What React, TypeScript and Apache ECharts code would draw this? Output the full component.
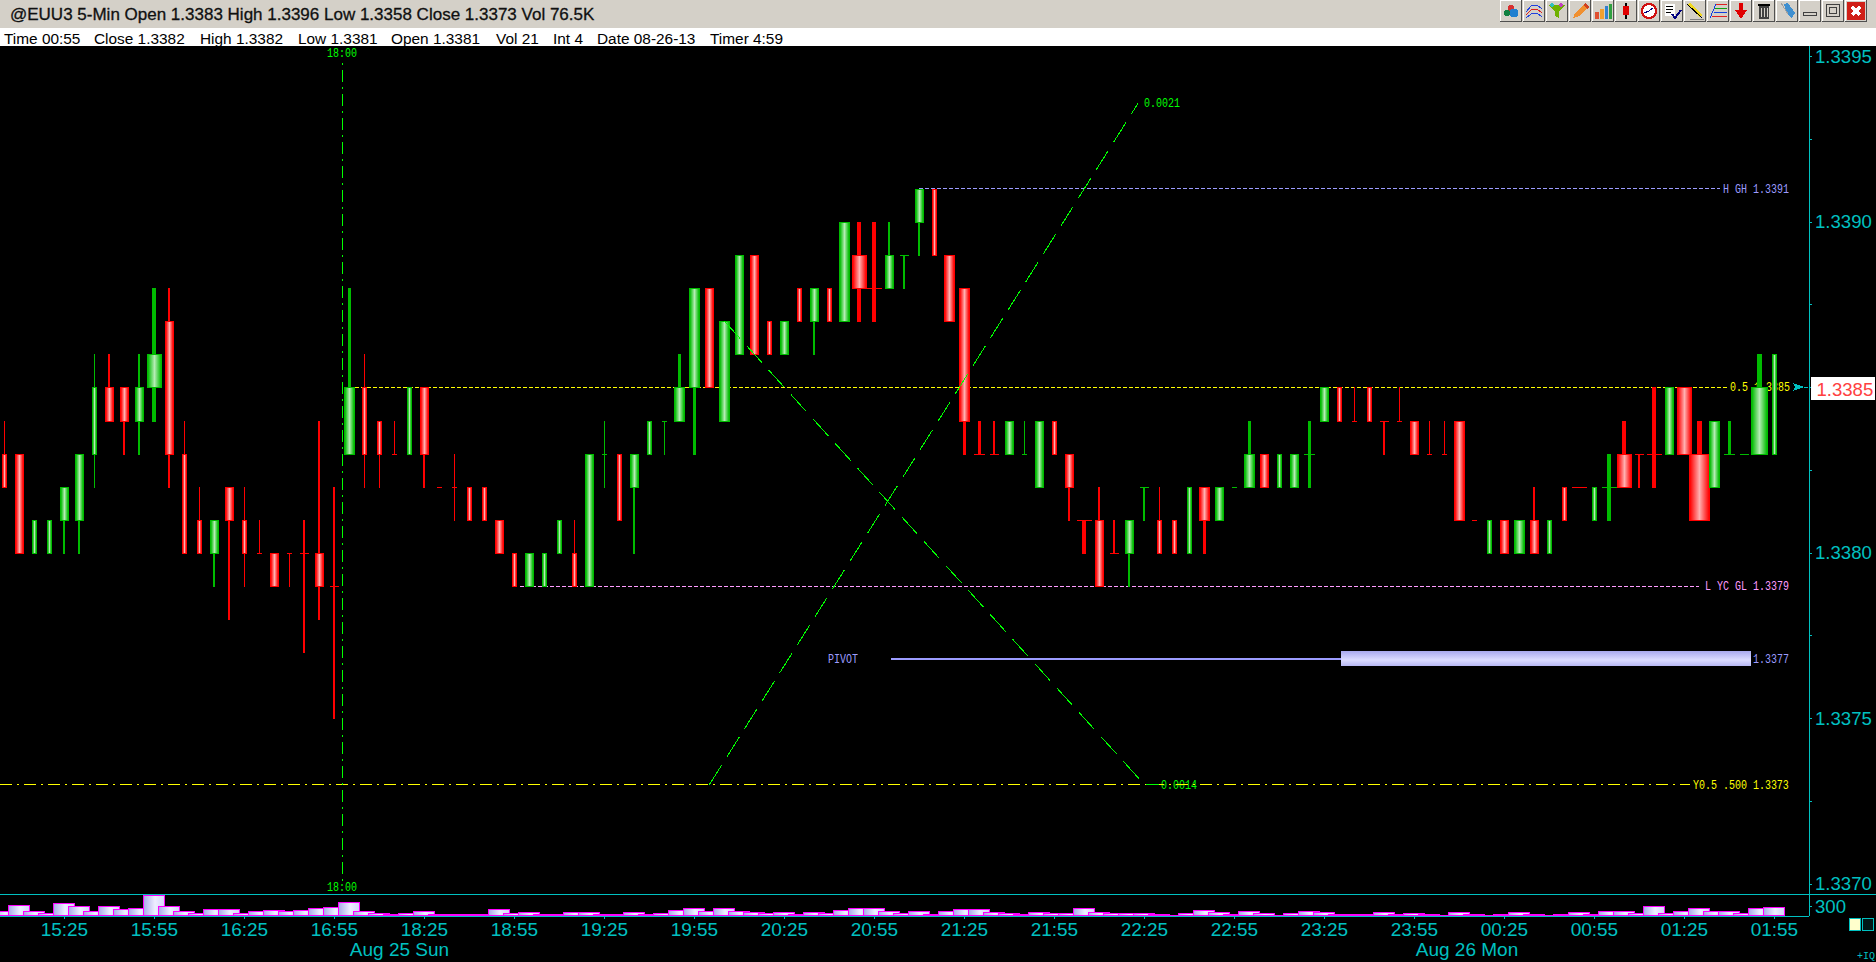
import React, { useEffect, useRef } from "react";
import * as echarts from "echarts";

const opens = [
  1.3383, 1.3383, 1.3380, 1.3380, 1.3381, 1.3381, 1.3383, 1.3385, 1.3385, 1.3384,
  1.3385, 1.3387, 1.3383, 1.3381, 1.3380, 1.3382, 1.3381, 1.3380, 1.3380, 1.3380,
  1.3380, 1.3380, 1.3379, 1.3383, 1.3385, 1.3384, 1.3383, 1.3383, 1.3385, 1.3382,
  1.3382, 1.3382, 1.3382, 1.3381, 1.3380, 1.3379, 1.3379, 1.3380, 1.3380, 1.3379,
  1.3383, 1.3383, 1.3382, 1.3383, 1.3384, 1.3384, 1.3385, 1.3388, 1.3384, 1.3386,
  1.3389, 1.3387, 1.3386, 1.3388, 1.3387, 1.3388, 1.3387, 1.3389, 1.3388, 1.3388,
  1.3389, 1.3390, 1.3391, 1.3389, 1.3388, 1.3383, 1.3383, 1.3383, 1.3383, 1.3382,
  1.3384, 1.3383, 1.3381, 1.3381, 1.3380, 1.3380, 1.3382, 1.3381, 1.3381, 1.3380,
  1.3382, 1.3381, 1.3382, 1.3382, 1.3383, 1.3382, 1.3382, 1.3383, 1.3384, 1.3385,
  1.3384, 1.3385, 1.3384, 1.3384, 1.3384, 1.3383, 1.3383, 1.3384, 1.3381, 1.3380,
  1.3381, 1.3380, 1.3381, 1.3380, 1.3382, 1.3382, 1.3381, 1.3382, 1.3383, 1.3383,
  1.3383, 1.3383, 1.3385, 1.3383, 1.3382, 1.3383, 1.3383, 1.3383, 1.3383,
];
const closes = [
  1.3382, 1.3380, 1.3381, 1.3381, 1.3382, 1.3383, 1.3385, 1.3384, 1.3384, 1.3385,
  1.3386, 1.3383, 1.3380, 1.3380, 1.3381, 1.3381, 1.3380, 1.3380, 1.3379, 1.3380,
  1.3380, 1.3379, 1.3379, 1.3385, 1.3383, 1.3383, 1.3383, 1.3385, 1.3383, 1.3382,
  1.3382, 1.3381, 1.3381, 1.3380, 1.3379, 1.3380, 1.3380, 1.3381, 1.3379, 1.3383,
  1.3383, 1.3381, 1.3383, 1.3384, 1.3384, 1.3385, 1.3388, 1.3385, 1.3387, 1.3389,
  1.3386, 1.3386, 1.3387, 1.3387, 1.3388, 1.3387, 1.3390, 1.3388, 1.3388, 1.3389,
  1.3389, 1.3391, 1.3389, 1.3387, 1.3384, 1.3383, 1.3383, 1.3384, 1.3383, 1.3384,
  1.3383, 1.3382, 1.3381, 1.3379, 1.3380, 1.3381, 1.3382, 1.3380, 1.3380, 1.3382,
  1.3381, 1.3382, 1.3382, 1.3383, 1.3382, 1.3383, 1.3383, 1.3383, 1.3385, 1.3384,
  1.3384, 1.3384, 1.3384, 1.3384, 1.3383, 1.3383, 1.3383, 1.3381, 1.3381, 1.3381,
  1.3380, 1.3381, 1.3380, 1.3381, 1.3381, 1.3382, 1.3382, 1.3382, 1.3382, 1.3383,
  1.3383, 1.3385, 1.3383, 1.3381, 1.3384, 1.3383, 1.3383, 1.3385, 1.3386,
];
const highs = [
  1.3384, 1.3383, 1.3381, 1.3381, 1.3382, 1.3383, 1.3386, 1.3386, 1.3385, 1.3386,
  1.3388, 1.3388, 1.3384, 1.3382, 1.3381, 1.3382, 1.3382, 1.3381, 1.3380, 1.3380,
  1.3381, 1.3384, 1.3382, 1.3388, 1.3386, 1.3384, 1.3384, 1.3385, 1.3385, 1.3382,
  1.3383, 1.3382, 1.3382, 1.3381, 1.3380, 1.3380, 1.3380, 1.3381, 1.3381, 1.3383,
  1.3384, 1.3383, 1.3383, 1.3384, 1.3384, 1.3386, 1.3388, 1.3388, 1.3387, 1.3389,
  1.3389, 1.3387, 1.3387, 1.3388, 1.3388, 1.3388, 1.3390, 1.3390, 1.3390, 1.3390,
  1.3389, 1.3391, 1.3391, 1.3389, 1.3388, 1.3384, 1.3384, 1.3384, 1.3384, 1.3384,
  1.3384, 1.3383, 1.3381, 1.3382, 1.3381, 1.3381, 1.3382, 1.3382, 1.3381, 1.3382,
  1.3382, 1.3382, 1.3382, 1.3384, 1.3383, 1.3383, 1.3383, 1.3384, 1.3385, 1.3385,
  1.3385, 1.3385, 1.3384, 1.3385, 1.3384, 1.3384, 1.3384, 1.3384, 1.3381, 1.3381,
  1.3381, 1.3381, 1.3382, 1.3381, 1.3382, 1.3382, 1.3382, 1.3383, 1.3384, 1.3383,
  1.3385, 1.3385, 1.3385, 1.3384, 1.3384, 1.3384, 1.3383, 1.3386, 1.3386,
];
const lows = [
  1.3382, 1.3380, 1.3380, 1.3380, 1.3380, 1.3380, 1.3382, 1.3384, 1.3383, 1.3383,
  1.3384, 1.3382, 1.3380, 1.3380, 1.3379, 1.3378, 1.3379, 1.3380, 1.3379, 1.3379,
  1.3377, 1.3378, 1.3375, 1.3383, 1.3382, 1.3382, 1.3383, 1.3383, 1.3382, 1.3382,
  1.3381, 1.3381, 1.3381, 1.3380, 1.3379, 1.3379, 1.3379, 1.3380, 1.3379, 1.3379,
  1.3382, 1.3381, 1.3380, 1.3383, 1.3383, 1.3384, 1.3383, 1.3385, 1.3384, 1.3386,
  1.3386, 1.3386, 1.3386, 1.3387, 1.3386, 1.3387, 1.3387, 1.3387, 1.3387, 1.3388,
  1.3388, 1.3389, 1.3389, 1.3387, 1.3383, 1.3383, 1.3383, 1.3383, 1.3383, 1.3382,
  1.3383, 1.3381, 1.3380, 1.3379, 1.3380, 1.3379, 1.3381, 1.3380, 1.3380, 1.3380,
  1.3380, 1.3381, 1.3382, 1.3382, 1.3382, 1.3382, 1.3382, 1.3382, 1.3384, 1.3384,
  1.3384, 1.3384, 1.3383, 1.3384, 1.3383, 1.3383, 1.3383, 1.3381, 1.3381, 1.3380,
  1.3380, 1.3380, 1.3380, 1.3380, 1.3381, 1.3382, 1.3381, 1.3381, 1.3382, 1.3382,
  1.3382, 1.3383, 1.3383, 1.3381, 1.3382, 1.3383, 1.3383, 1.3383, 1.3383,
];
// Equivolume-like breadth of each candle.
const breadths = [
  5, 9, 5, 5, 9, 9, 5, 9, 9, 9, 15, 9, 5, 5, 9, 9, 5, 5, 9, 5,
  9, 9, 9, 11, 5, 5, 5, 5, 9, 5, 5, 5, 5, 9, 5, 9, 5, 5, 5, 9,
  5, 5, 9, 5, 5, 11, 11, 9, 11, 9, 9, 5, 9, 5, 9, 5, 11, 15, 15, 9,
  9, 9, 5, 11, 11, 11, 9, 9, 5, 9, 5, 9, 15, 9, 9, 9, 9, 5, 5, 5,
  11, 9, 5, 11, 9, 5, 9, 11, 9, 5, 5, 5, 9, 5, 9, 5, 5, 11, 5, 5,
  9, 11, 9, 5, 5, 15, 5, 15, 15, 9, 15, 9, 15, 21, 11, 11, 9, 17, 5,
];
const greenDojis = [40, 44, 60, 68, 76, 82, 87, 107, 115, 116];
const volumes = [
  160, 320, 140, 100, 380, 290, 160, 290, 200, 230, 620, 290, 140, 100, 200, 200, 80, 140, 170, 140,
  170, 230, 260, 410, 140, 80, 60, 80, 140, 50, 50, 50, 50, 200, 100, 110, 50, 50, 110, 110,
  70, 70, 110, 50, 80, 170, 230, 140, 230, 140, 110, 80, 110, 50, 110, 80, 170, 230, 230, 140,
  80, 140, 50, 140, 200, 200, 110, 80, 50, 110, 80, 80, 230, 110, 80, 80, 80, 50, 30, 80,
  170, 110, 50, 140, 80, 30, 80, 140, 110, 50, 50, 50, 110, 60, 80, 50, 30, 110, 50, 30,
  50, 110, 50, 20, 50, 110, 50, 140, 140, 80, 290, 80, 140, 230, 140, 140, 80, 230, 260,
];

const timeTickBars = [4, 10, 16, 22, 28, 34, 40, 46, 52, 58, 64, 70, 76, 82, 88, 94, 100, 106, 112, 118];
const timeTickLabels = [
  "15:25", "15:55", "16:25", "16:55", "18:25", "18:55", "19:25", "19:55", "20:25", "20:55",
  "21:25", "21:55", "22:25", "22:55", "23:25", "23:55", "00:25", "00:55", "01:25", "01:55",
];
const priceTicks = [1.337, 1.33725, 1.3375, 1.33775, 1.338, 1.33825, 1.3385, 1.33875, 1.339, 1.33925, 1.3395];
const priceLabels = [1.337, 1.3375, 1.338, 1.339, 1.3395];
const volumeTicks = [300];
const lastPrice = 1.3385;

const sessionBreakBar = 22.53;
const sessionBreakSpan = [1.33948, 1.33701];
const fibUpBars = [47, 75.6];
const fibUpPrices = [1.3373, 1.33936];
const fibDownBars = [48, 76, 77];
const fibDownPrices = [1.3387, 1.3373, 1.3373];

const levelPrices = [1.3391, 1.3385, 1.3379, 1.3373, 1.33768];
const levelStartBars = [61, 23, 34.4, -0.3, 59.1];
const levelEndBars = [114.4, 114.85, 113, 112.4, 89.1];
const pivotBand = [[89.1, 1.33768], [116.4, 1.33768]];

const annotationTexts = ["18:00", "18:00", "0.0021", "0.0014", "H GH 1.3391", "0.5 1.3385", "L YC GL 1.3379", "PIVOT", "1.3377", "Y0.5 .500 1.3373"];
const annotationBars = [22.53, 22.53, 75.95, 77.1, 114.6, 115.04, 113.4, 54.9, 116.6, 112.6];
const annotationPrices = [1.33951, 1.33699, 1.33936, 1.3373, 1.3391, 1.3385, 1.3379, 1.33768, 1.33768, 1.3373];

const statusTexts = ["Time 00:55", "Close 1.3382", "High 1.3382", "Low 1.3381", "Open 1.3381", "Vol 21", "Int 4", "Date 08-26-13", "Timer 4:59"];
const titleText = "@EUU3 5-Min Open 1.3383 High 1.3396 Low 1.3358 Close 1.3373 Vol 76.5K";
const dateTexts = ["Aug 25 Sun", "Aug 26 Mon"];

const CYAN = "#00c0c0";
const GREEN = "#00bb00";
const RED = "#ff0000";
const LIME = "#00ff00";
const YELLOW = "#ffff00";
const PERI = "#9c9cff";
const PINK = "#ff9cff";
const levelColors = [PERI, YELLOW, PINK, YELLOW, PERI];
const levelDashes: any[] = [[4, 2], [4, 2], [4, 2], [12, 5, 2, 5], "solid"];
const levelWidths = [1, 1, 1, 1, 2];
const annotationColors = [LIME, LIME, LIME, LIME, PERI, YELLOW, PINK, PERI, PERI, YELLOW];

const bitmapFont = '10px "Liberation Mono"';
const wickFor = (b: number) => (b <= 5 ? 1 : b <= 9 ? 2 : b <= 11 ? 3 : b <= 15 ? 4 : 5);
const statusX = [4, 94, 200, 298, 391, 496, 553, 597, 710];

function candleItem(params: any, api: any) {
  const i = params.dataIndex;
  const x = api.value(0);
  const o = api.value(1);
  const c = api.value(2);
  const l = api.value(3);
  const h = api.value(4);
  const b = api.value(5);
  const green = c > o || (c === o && greenDojis.includes(i));
  const main = green ? GREEN : RED;
  const pale = green ? "#b4ecb4" : "#ffb0b0";
  const cx = api.coord([x, o])[0];
  const yO = Math.round(api.coord([x, o])[1]);
  const yC = Math.round(api.coord([x, c])[1]);
  const yH = Math.round(api.coord([x, h])[1]);
  const yL = Math.round(api.coord([x, l])[1]);
  const top = Math.min(yO, yC);
  const bot = Math.max(yO, yC);
  const wick = wickFor(b);
  const left = Math.round(cx - b / 2);
  const wickLeft = Math.round(cx - wick / 2);
  const children: any[] = [];
  if (yL > yH) {
    children.push({ type: "rect", shape: { x: wickLeft, y: yH, width: wick, height: yL - yH + 1 }, style: { fill: main } });
  }
  children.push({ type: "rect", shape: { x: left, y: top, width: b, height: bot - top + 1 }, style: { fill: main } });
  if (bot > top + 2 && b > 2) {
    children.push({
      type: "rect",
      shape: { x: left + 1, y: top + 1, width: b - 2, height: bot - top - 1 },
      style: {
        fill: new echarts.graphic.LinearGradient(0, 0, 1, 0, [
          { offset: 0, color: main },
          { offset: 0.5, color: pale },
          { offset: 1, color: main },
        ]),
      },
    });
  }
  return { type: "group", children };
}

function volumeItem(_params: any, api: any) {
  const p = api.coord([api.value(0), api.value(1)]);
  const base = api.coord([api.value(0), 0]);
  const w = 22;
  const left = Math.round(p[0] - w / 2);
  const top = Math.round(p[1]);
  const bottom = Math.round(base[1]);
  return {
    type: "group",
    children: [
      { type: "rect", shape: { x: left, y: top, width: w, height: bottom - top }, style: { fill: "#ff00ff" } },
      {
        type: "rect",
        shape: { x: left + 1, y: top + 1, width: w - 2, height: Math.max(0, bottom - top - 2) },
        style: {
          fill: new echarts.graphic.LinearGradient(0, 0, 1, 0, [
            { offset: 0, color: "#acacea" },
            { offset: 0.55, color: "#eeeeff" },
            { offset: 1, color: "#d6d6fb" },
          ]),
        },
      },
    ],
  };
}

function annotationItem(params: any, api: any) {
  const i = params.dataIndex;
  const p = api.coord([api.value(0), api.value(1)]);
  const centred = annotationTexts[i] === "18:00";
  return {
    type: "text",
    x: Math.round(p[0]),
    y: Math.round(p[1]) + 1,
    scaleY: 1.35,
    style: {
      text: annotationTexts[i],
      fill: annotationColors[i],
      font: bitmapFont,
      align: centred ? "center" : "left",
      verticalAlign: "middle",
    },
  };
}

function pivotItem(_params: any, api: any) {
  const a = api.coord([pivotBand[0][0], pivotBand[0][1]]);
  const b = api.coord([pivotBand[1][0], pivotBand[1][1]]);
  return {
    type: "rect",
    shape: { x: Math.round(a[0]), y: Math.round(a[1]) - 8, width: Math.round(b[0] - a[0]), height: 15 },
    style: {
      fill: new echarts.graphic.LinearGradient(0, 0, 0, 1, [
        { offset: 0, color: "#a8a8ee" },
        { offset: 0.6, color: "#dcdcff" },
        { offset: 1, color: "#b8b8f4" },
      ]),
    },
  };
}

function lastPriceItem(_params: any, api: any) {
  const p = api.coord([api.value(0), api.value(1)]);
  const x = p[0];
  const y = Math.round(p[1]);
  return {
    type: "group",
    children: [
      { type: "polygon", shape: { points: [[x, y - 4], [x + 12, y], [x, y + 4], [x + 3, y]] }, style: { fill: CYAN } },
      { type: "rect", shape: { x: x + 12, y, width: 4, height: 1 }, style: { fill: CYAN } },
      { type: "rect", shape: { x: x + 19, y: y - 10, width: 64, height: 23 }, style: { fill: "#ffffff" } },
      {
        type: "text",
        x: x + 24,
        y: y + 2,
        style: { text: api.value(1).toFixed(4), fill: "#ff4040", font: '18.6px "Liberation Sans"', align: "left", verticalAlign: "middle" },
      },
    ],
  };
}

function buttonIcons(k: number): any[] {
  const x0 = 1500 + 23 * k;
  const r = (x: number, y: number, w: number, h: number, fill: string) => ({ type: "rect", shape: { x: x0 + x, y, width: w, height: h }, style: { fill } });
  const c = (x: number, y: number, rad: number, fill: string) => ({ type: "circle", shape: { cx: x0 + x, cy: y, r: rad }, style: { fill } });
  const poly = (pts: number[][], fill: string) => ({ type: "polygon", shape: { points: pts.map((p) => [x0 + p[0], p[1]]) }, style: { fill } });
  const pl = (pts: number[][], stroke: string, w = 1) => ({ type: "polyline", shape: { points: pts.map((p) => [x0 + p[0], p[1]]) }, style: { stroke, lineWidth: w, fill: "none" } });
  switch (k) {
    case 0:
      return [c(7, 13, 3, "#108040"), c(11, 8, 3.5, "#d83030"), c(14, 13, 4.5, "#2080d0")];
    case 1:
      return [pl([[3, 12], [8, 6], [14, 5], [19, 9]], "#2040e0"), pl([[3, 15], [8, 10], [14, 9], [19, 13]], "#e02020"), pl([[3, 18], [8, 14], [14, 13], [19, 17]], "#2040e0")];
    case 2:
      return [poly([[3, 5], [19, 5], [13, 12], [13, 18], [9, 16], [9, 12]], "#70b000"), c(6, 5, 2, "#30c0c0"), c(15, 5, 2, "#c040c0")];
    case 3:
      return [poly([[4, 18], [6, 13], [16, 3], [20, 7], [10, 16]], "#f09030"), poly([[16, 3], [20, 7], [18, 9], [14, 5]], "#d04020")];
    case 4:
      return [r(3, 12, 4, 7, "#e05030"), r(8, 9, 4, 10, "#f0a030"), r(13, 6, 3, 13, "#3080d0"), r(17, 4, 3, 15, "#30a040")];
    case 5:
      return [r(10, 3, 2, 16, "#000000"), r(8, 6, 6, 9, "#e00000")];
    case 6:
      return [
        { type: "circle", shape: { cx: x0 + 11, cy: 11, r: 7 }, style: { fill: "#ffffff", stroke: "#d01010", lineWidth: 2 } },
        pl([[6, 13], [11, 11], [15, 8]], "#000080"),
      ];
    case 7:
      return [r(4, 4, 10, 12, "#ffffff"), pl([[5, 6], [12, 6]], "#000000"), pl([[5, 9], [12, 9]], "#000000"), pl([[5, 12], [10, 12]], "#000000"), pl([[11, 14], [14, 18], [20, 10]], "#000080", 2)];
    case 8:
      return [poly([[3, 4], [6, 3], [18, 15], [16, 18]], "#f0d820"), pl([[3, 4], [18, 18]], "#000000"), pl([[6, 19], [20, 19]], "#808080")];
    case 9:
      return [pl([[3, 18], [9, 4]], "#1040e0"), pl([[9, 4], [20, 4]], "#e02020"), pl([[8, 8], [20, 8]], "#10a010"), pl([[7, 12], [20, 12]], "#1040e0"), pl([[5, 16], [20, 16]], "#e02020")];
    case 10:
      return [r(9, 3, 4, 8, "#e00000"), poly([[5, 10], [17, 10], [11, 19]], "#e00000")];
    case 11:
      return [r(6, 6, 10, 13, "#404040"), r(5, 4, 12, 2, "#000000"), r(8, 8, 1, 9, "#d4d0c8"), r(11, 8, 1, 9, "#d4d0c8"), r(14, 8, 1, 9, "#d4d0c8")];
    case 12:
      return [poly([[8, 4], [12, 3], [19, 13], [16, 18], [11, 14]], "#4090d0"), pl([[5, 3], [12, 14]], "#a0a0a0")];
    case 13:
      return [{ type: "rect", shape: { x: x0 + 4.5, y: 12.5, width: 13, height: 3 }, style: { fill: "none", stroke: "#404040", lineWidth: 1 } }];
    case 14:
      return [
        { type: "rect", shape: { x: x0 + 4.5, y: 4.5, width: 13, height: 12 }, style: { fill: "none", stroke: "#404040", lineWidth: 1 } },
        { type: "rect", shape: { x: x0 + 7.5, y: 7.5, width: 7, height: 6 }, style: { fill: "none", stroke: "#404040", lineWidth: 1 } },
      ];
    default:
      return [r(2, 2, 18, 18, "#d02018"), pl([[7, 7], [15, 15]], "#ffffff", 3), pl([[15, 7], [7, 15]], "#ffffff", 3)];
  }
}

function chromeGraphics(): any[] {
  const out: any[] = [
    { type: "rect", shape: { x: 0, y: 0, width: 1876, height: 28 }, style: { fill: "#d4d0c8" } },
    { type: "rect", shape: { x: 0, y: 28, width: 1876, height: 18 }, style: { fill: "#ffffff" } },
    { type: "text", x: 10, y: 14, style: { text: titleText, fill: "#101010", font: '17px "Liberation Sans"', verticalAlign: "middle", stroke: "#101010", lineWidth: 0.3 } },
    { type: "rect", shape: { x: 0, y: 894, width: 1876, height: 1 }, style: { fill: CYAN } },
    { type: "rect", shape: { x: 1849, y: 918, width: 11, height: 12 }, style: { fill: "#ffffcc", stroke: CYAN, lineWidth: 1 } },
    { type: "rect", shape: { x: 1862, y: 918, width: 11, height: 12 }, style: { fill: "#001818", stroke: CYAN, lineWidth: 1 } },
    { type: "text", x: 1857, y: 956, style: { text: "+IQ", fill: CYAN, font: bitmapFont, verticalAlign: "middle" } },
  ];
  statusTexts.forEach((t, i) => {
    out.push({ type: "text", x: statusX[i], y: 38, style: { text: t, fill: "#000000", font: '15.4px "Liberation Sans"', verticalAlign: "middle" } });
  });
  const dateCentres = [399.5, 1467];
  dateTexts.forEach((t, i) => {
    out.push({ type: "text", x: dateCentres[i], y: 949, style: { text: t, fill: CYAN, font: '19px "Liberation Sans"', align: "center", verticalAlign: "middle" } });
  });
  for (let k = 0; k < 16; k++) {
    const x0 = 1500 + 23 * k;
    out.push({ type: "rect", shape: { x: x0, y: 0, width: 22, height: 22 }, style: { fill: "#d4d0c8" } });
    out.push({ type: "polyline", shape: { points: [[x0 + 0.5, 22], [x0 + 0.5, 0.5], [x0 + 22, 0.5]] }, style: { stroke: "#ffffff", lineWidth: 1, fill: "none" } });
    out.push({ type: "polyline", shape: { points: [[x0, 21.5], [x0 + 21.5, 21.5], [x0 + 21.5, 0]] }, style: { stroke: "#505050", lineWidth: 1, fill: "none" } });
    buttonIcons(k).forEach((g) => out.push(g));
  }
  return out;
}

function buildOption(): any {
  const xMin = -0.2933;
  const xMax = xMin + 1809 / 15;
  const lineBase = { type: "line", xAxisIndex: 0, yAxisIndex: 0, showSymbol: false, symbol: "none", silent: true, animation: false };
  const levelSeries = levelPrices.map((p, i) => ({
    ...lineBase,
    name: "level" + i,
    z: 1,
    data: [[levelStartBars[i], p], [levelEndBars[i], p]],
    lineStyle: { color: levelColors[i], width: levelWidths[i], type: levelDashes[i] },
  }));
  return {
    animation: false,
    backgroundColor: "#000000",
    grid: [
      { left: 0, top: 46, width: 1809, height: 848 },
      { left: 0, top: 894, width: 1809, height: 22 },
    ],
    xAxis: [
      { type: "value", gridIndex: 0, min: xMin, max: xMax, show: false, splitLine: { show: false } },
      {
        type: "value",
        gridIndex: 1,
        min: xMin,
        max: xMax,
        z: 10,
        splitLine: { show: false },
        axisLine: { show: true, lineStyle: { color: CYAN, width: 1 } },
        axisTick: { show: true, length: 3, customValues: timeTickBars, lineStyle: { color: CYAN } },
        axisLabel: {
          customValues: timeTickBars,
          color: CYAN,
          fontFamily: "Liberation Sans",
          fontSize: 19,
          margin: 4,
          formatter: (v: number) => timeTickLabels[timeTickBars.indexOf(v)] ?? "",
        },
      },
    ],
    yAxis: [
      {
        type: "value",
        gridIndex: 0,
        position: "right",
        min: 1.3385 - (894 - 387.4) / 33.1 / 10000,
        max: 1.3385 + (387.4 - 46) / 33.1 / 10000,
        splitLine: { show: false },
        axisLine: { show: true, onZero: false, lineStyle: { color: CYAN, width: 1 } },
        axisTick: { show: true, length: 3, customValues: priceTicks, lineStyle: { color: CYAN } },
        axisLabel: {
          customValues: priceLabels,
          color: CYAN,
          fontFamily: "Liberation Sans",
          fontSize: 18.6,
          margin: 6,
          padding: [6, 0, 0, 0],
          formatter: (v: number) => v.toFixed(4),
        },
      },
      {
        type: "value",
        gridIndex: 1,
        position: "right",
        min: 0,
        max: 660,
        splitLine: { show: false },
        axisLine: { show: true, onZero: false, lineStyle: { color: CYAN, width: 1 } },
        axisTick: { show: true, length: 3, customValues: volumeTicks, lineStyle: { color: CYAN } },
        axisLabel: {
          customValues: volumeTicks,
          color: CYAN,
          fontFamily: "Liberation Sans",
          fontSize: 18.6,
          margin: 6,
          padding: [20, 0, 0, 0],
          formatter: (v: number) => String(v),
        },
      },
    ],
    graphic: { elements: chromeGraphics() },
    series: [
      ...levelSeries,
      {
        type: "custom",
        name: "pivotBand",
        xAxisIndex: 0,
        yAxisIndex: 0,
        z: 1,
        silent: true,
        renderItem: pivotItem,
        encode: { x: 0, y: 1 },
        data: [[pivotBand[0][0], pivotBand[0][1]]],
      },
      {
        ...lineBase,
        name: "sessionBreak",
        z: 1,
        data: sessionBreakSpan.map((p) => [sessionBreakBar, p]),
        lineStyle: { color: LIME, width: 1, type: [12, 5, 2, 5], dashOffset: 17 },
      },
      {
        type: "custom",
        name: "annotations",
        xAxisIndex: 0,
        yAxisIndex: 0,
        z: 1,
        silent: true,
        renderItem: annotationItem,
        encode: { x: 0, y: 1 },
        data: annotationBars.map((b, i) => [b, annotationPrices[i]]),
      },
      {
        type: "custom",
        name: "candles",
        xAxisIndex: 0,
        yAxisIndex: 0,
        z: 2,
        silent: true,
        renderItem: candleItem,
        encode: { x: 0, y: [1, 2, 3, 4] },
        data: opens.map((o, i) => [i, o, closes[i], lows[i], highs[i], breadths[i]]),
      },
      {
        ...lineBase,
        name: "fibUp",
        z: 3,
        data: fibUpBars.map((b, i) => [b, fibUpPrices[i]]),
        lineStyle: { color: LIME, width: 1, type: [23, 10] },
      },
      {
        ...lineBase,
        name: "fibDown",
        z: 3,
        data: fibDownBars.map((b, i) => [b, fibDownPrices[i]]),
        lineStyle: { color: LIME, width: 1, type: [23, 10] },
      },
      {
        type: "custom",
        name: "volume",
        xAxisIndex: 1,
        yAxisIndex: 1,
        z: 2,
        silent: true,
        renderItem: volumeItem,
        encode: { x: 0, y: 1 },
        data: volumes.map((v, i) => [i, v]),
      },
      {
        type: "custom",
        name: "lastPrice",
        xAxisIndex: 0,
        yAxisIndex: 0,
        z: 5,
        silent: true,
        renderItem: lastPriceItem,
        encode: { x: 0, y: 1 },
        data: [[119.2, lastPrice]],
      },
    ],
  };
}

export default function App() {
  const ref = useRef<HTMLDivElement>(null);
  useEffect(() => {
    if (!ref.current) return;
    document.body.style.margin = "0";
    document.body.style.background = "#000";
    const chart = echarts.init(ref.current, undefined, { renderer: "svg" });
    chart.setOption(buildOption());
    return () => chart.dispose();
  }, []);
  return (
    <>
      <style>{"svg path { shape-rendering: crispEdges; }"}</style>
      <div ref={ref} style={{ position: "fixed", left: 0, top: 0, width: 1876, height: 962 }} />
    </>
  );
}
